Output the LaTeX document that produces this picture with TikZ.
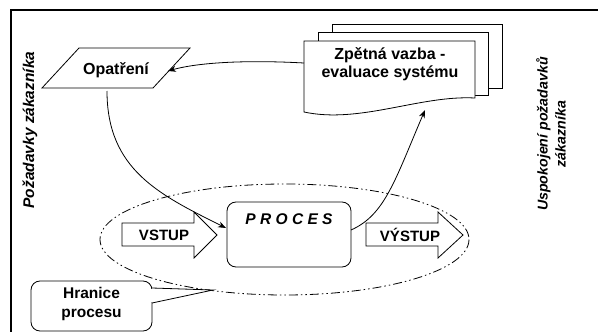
\documentclass[tikz,border=0pt]{standalone}
\usepackage{fontspec}
\setmainfont{Liberation Sans}
\usetikzlibrary{arrows.meta}
\tikzset{
  every node/.style={font=\bfseries\fontsize{16}{18}\selectfont},
  arrowtext/.style={font=\bfseries\fontsize{15}{18}\selectfont},
  thinline/.style={line width=0.8pt},
  conn/.style={thinline,-{Stealth[length=8pt,width=6pt]}},
  boxfill/.style={thinline,fill=white},
  bound/.style={line width=0.8pt,dash pattern=on 9pt off 3pt on 1.5pt off 3pt on 1.5pt off 3pt},
  sidetext/.style={font=\bfseries\itshape\fontsize{15.5}{16}\selectfont,rotate=90,align=center}
}
\begin{document}
\begin{tikzpicture}[x=1pt,y=-1pt]
\useasboundingbox (0,0) rectangle (598,332);
% frame
\draw[line width=1.8pt] (11,340) -- (11,10) -- (605,10);
% side texts
\node[sidetext] (req) at (30,130) {Požadavky zákazníka};
\node[sidetext,font=\bfseries\itshape\fontsize{14.2}{18}\selectfont] (sat) at (551,134) {Uspokojení požadavků\\zákazníka};
% document stack
\draw[boxfill] (332,24) rectangle (502,88);
\draw[boxfill] (318,32) rectangle (488,95);
\draw[boxfill] (304,112) -- (304,41) -- (475,41) -- (475,98) .. controls (420,95) and (360,124) .. (304,112) -- cycle;
\coordinate (docL) at (304,63);
\coordinate (docB) at (425,110);
\node[align=center,font=\bfseries\fontsize{16}{18.5}\selectfont] (doc) at (390,64) {Zpětná vazba -\\evaluace systému};
% parallelogram
\draw[boxfill] (79,48) -- (190,48) -- (153,88) -- (42,88) -- cycle;
\node (opat) at (116,70) {Opatření};
\coordinate (opatR) at (168,71);
\coordinate (opatB) at (107,91);
% process box
\draw[thinline,fill=white,rounded corners=9pt] (227,202) rectangle (351,267);
\node[font=\bfseries\itshape\fontsize{15.5}{17}\selectfont\addfontfeature{LetterSpace=28}] (proc) at (289,219) {PROCES};
\coordinate (procL) at (226,228);
\coordinate (procR) at (351,230);
% input/output arrows
\draw[boxfill] (122,223) -- (194,223) -- (194,212) -- (217,235) -- (194,258) -- (194,246) -- (122,246) -- cycle;
\node[arrowtext] (vstup) at (164,235) {VSTUP};
\draw[boxfill] (366,223) -- (438,223) -- (438,212) -- (463,235) -- (438,258) -- (438,246) -- (366,246) -- cycle;
\node[arrowtext] (vystup) at (410,235) {VÝSTUP};
% connectors
\draw[conn] (docL) .. controls (250,60) and (200,62) .. (opatR);
\draw[conn] (opatB) .. controls (107,170) and (160,195) .. (procL);
\draw[conn] (procR) .. controls (385,215) and (395,180) .. (docB);
% boundary ellipse
\draw[bound] (284.5,239.5) ellipse [x radius=184.5, y radius=55.5];
% callout
\draw[boxfill,rounded corners=9pt] (31,281) rectangle (152,331);
\fill[white] (150,288.6) rectangle (154,302.4);
\draw[thinline,fill=white] (152,288) -- (213,290) -- (152,303);
\node[align=center,font=\bfseries\fontsize{15.5}{19}\selectfont] (hran) at (91.5,304) {Hranice\\procesu};
\end{tikzpicture}
\end{document}
